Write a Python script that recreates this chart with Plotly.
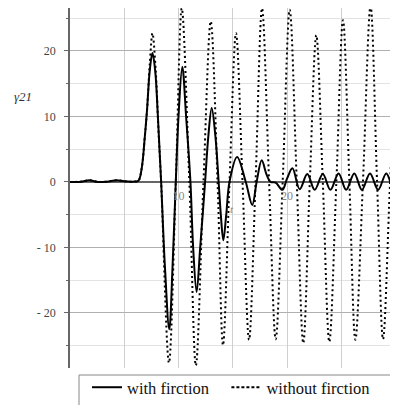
import plotly.graph_objects as go

# with friction (solid)
t_fric = [0, 1.0, 1.8, 2.6, 3.4, 4.3, 5.0, 5.8, 6.3, 6.6, 6.9, 7.1, 7.35, 7.6, 7.85, 8.1, 8.4,
          8.75, 9.15, 9.45, 9.75, 10.0, 10.35, 10.7, 11.1, 11.35, 11.67, 12.0, 12.45, 12.75,
          13.06, 13.4, 13.7, 13.9, 14.13, 14.4, 14.7, 15.4, 16.2, 16.8, 17.2, 17.67, 18.1,
          18.5, 18.95, 19.57, 20.0, 20.5, 21.17, 21.87, 22.55, 23.3, 24.0, 24.75, 25.45,
          26.2, 26.9, 27.65, 28.4, 29.15, 29.85, 30.23]
g_fric = [0, 0.05, 0.25, 0, 0.05, 0.25, 0.1, 0.05, 0.2, 2, 7, 11, 17, 19.7, 17, 10, 0,
          -13, -22.5, -13, 0, 10, 17.6, 10, 0, -10, -16.8, -10, 0, 7,
          11.3, 7, 0, -5, -8.9, -5, 0, 3.8, 0, -3.5, 0, 3.3, 1.2,
          0, -0.1, -1.2, 0.5, 2.1, -1.1, 1.2, -1.2, 1.2, -1.2, 1.3, -1.2,
          1.3, -1.2, 1.3, -1.2, 1.3, -1.2, -0.2]

# without friction (dotted)
t_free = [0, 1.0, 1.8, 2.6, 3.4, 4.3, 5.0, 5.8, 6.3, 6.6, 6.9, 7.1, 7.35, 7.6, 7.9, 8.15, 8.4,
          9.12, 9.75, 10.3, 11.0, 11.6, 12.3, 12.97, 13.6, 14.1, 14.7, 15.3, 15.9, 16.5,
          17.1, 17.7, 18.35, 18.96, 19.6, 20.25, 20.9, 21.5, 22.1, 22.7, 23.3, 23.9, 24.55,
          25.16, 25.75, 26.3, 27.0, 27.7, 28.3, 28.85, 29.5, 30.23]
g_free = [0, 0.05, 0.25, 0, 0.05, 0.25, 0.1, 0.05, 0.2, 2, 7, 11, 18, 22.7, 17, 8, 0,
          -27.6, 0, 26.5, 0, -28, 0, 24.5, 0, -24.9, 0, 22.7, 0, -24.1,
          0, 26.5, 0, -24.0, 0, 26.3, 0, -24.6, 0, 22.4, 0, -24.4, 0,
          24.7, 0, -24.1, 0, 26.9, 0, -24.0, 0, 26.0]

y_ticks = [-20, -10, 0, 10, 20]
y_ticktext = ["- 20", "- 10", "0", "10", "20"]
x_ticks = [5, 10, 15, 20, 25, 30]
x_ticktext = ["", "10", "", "20", "", "30"]
series_names = ["with firction", "without firction"]

SERIF = "Liberation Serif, serif"
YMIN, YMAX = -28.4, 26.56
# page body has an 8px margin: figure sized to fit the window from (8, 8)
OFF = 8
W, H = 398 - OFF, 405 - OFF
ML, MR, MT, MB = 70 - OFF, 0, 0, 37
PW, PH = W - ML - MR, H - MT - MB
NB = "\u00a0"

fig = go.Figure()
fig.add_trace(go.Scatter(x=t_free, y=g_free, mode="lines", showlegend=False,
                         line=dict(color="black", width=2, dash="2px,3px", shape="spline")))
fig.add_trace(go.Scatter(x=t_fric, y=g_fric, mode="lines", showlegend=False,
                         line=dict(color="black", width=2, shape="spline")))
# legend entries
fig.add_trace(go.Scatter(x=[None], y=[None], mode="lines", name=series_names[0] + NB * 3,
                         line=dict(color="black", width=2)))
fig.add_trace(go.Scatter(x=[None], y=[None], mode="lines", name=series_names[1],
                         line=dict(color="black", width=2, dash="3px,2px")))

fig.update_layout(
    width=W, height=H, autosize=False,
    margin=dict(l=ML, r=MR, t=MT, b=MB, pad=0, autoexpand=False),
    paper_bgcolor="white", plot_bgcolor="white",
    font=dict(family=SERIF, size=12, color="#444"),
    xaxis=dict(range=[0, 30.23], tickmode="array", tickvals=x_ticks, ticktext=x_ticktext,
               showgrid=True, gridcolor="#cfcfcf", gridwidth=1, zeroline=False,
               showline=False, ticks="", anchor="free", automargin=False,
               position=(0 - YMIN) / (YMAX - YMIN),
               ticklabeloverflow="allow", ticklabelstandoff=5,
               tickfont=dict(family=SERIF, size=12, color="#888")),
    yaxis=dict(range=[YMIN, YMAX], tickmode="array", tickvals=y_ticks, ticktext=y_ticktext,
               ticks="outside", ticklen=4, tickcolor="#666", tickwidth=1, automargin=False,
               showline=True, linecolor="#666", linewidth=1.5,
               showgrid=True, gridcolor="#b0b0b0", gridwidth=1,
               zeroline=True, zerolinecolor="#666", zerolinewidth=1.5,
               ticklabelstandoff=6,
               tickfont=dict(family=SERIF, size=12, color="#444"),
               minor=dict(tickmode="linear", tick0=0, dtick=5, ticks="outside", ticklen=2,
                          tickcolor="#666", showgrid=True, gridcolor="#e3e3e3")),
    legend=dict(orientation="h", xref="container", yref="container",
                x=(87 - OFF) / W, y=(H - (370 - OFF)) / H,
                xanchor="left", yanchor="top", borderwidth=0,
                bgcolor="rgba(0,0,0,0)", font=dict(family=SERIF, size=16.5, color="#111")),
    shapes=[dict(type="rect", xref="paper", yref="paper",
                 x0=(79 - 70) / PW, x1=(393 - 70) / PW,
                 y0=-(420 - 368) / PH, y1=-(375 - 368) / PH,
                 line=dict(color="#888", width=1), fillcolor="white", layer="above")],
    annotations=[
        dict(text="<i>γ21</i>", xref="paper", yref="y", x=(12 - 70) / PW, y=13,
             xanchor="left", showarrow=False, font=dict(family=SERIF, size=13, color="#333")),
        dict(text="<i>t</i>", xref="x", yref="y", x=14.9, y=-4.1,
             showarrow=False, font=dict(family=SERIF, size=11, color="#888")),
    ],
)

fig.write_html("out.html")
